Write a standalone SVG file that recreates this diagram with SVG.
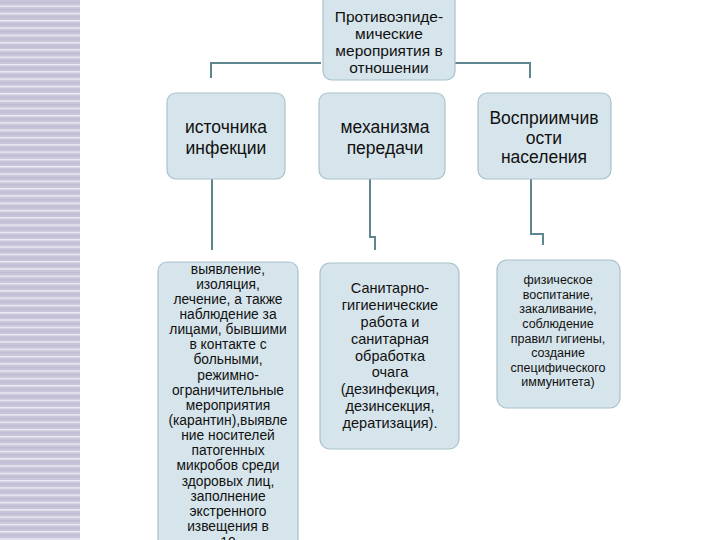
<svg xmlns="http://www.w3.org/2000/svg" width="720" height="540" viewBox="0 0 720 540">
<defs>
<pattern id="stripes" width="80" height="7.3" patternUnits="userSpaceOnUse">
<rect width="80" height="7.3" fill="#c9c5db"/>
<rect y="5.6" width="80" height="1.2" fill="#f4f3f8"/>
<rect y="2" width="80" height="1" fill="#bdb9d0"/>
</pattern>
</defs>
<style>
.box{fill:#d6e4eb;stroke:#a9c2cc;stroke-width:1.2}
.conn{fill:none;stroke:#5f8590;stroke-width:2}
text{font-family:"Liberation Sans",Arial,sans-serif;fill:#111;text-anchor:middle}
.t13{font-size:15.5px}
.t16{font-size:17.5px}
.t12{font-size:13.8px}
.t14{font-size:14.5px}
.t12b{font-size:12.5px}
</style>
<rect width="720" height="540" fill="#ffffff"/>
<rect x="0" y="0" width="80" height="540" fill="url(#stripes)"/>
<g id="connectors">
<polyline class="conn" points="211,78 211,63 321,63"/>
<polyline class="conn" points="455,63 530,63 530,78"/>
<polyline class="conn" points="212,179 212,250"/>
<polyline class="conn" points="370,179 370,237 375,237 375,250"/>
<polyline class="conn" points="531,179 531,234 543,234 543,245"/>
</g>
<g id="top">
<rect class="box" x="323" y="-8" width="132" height="88" rx="9"/>
<text class="t13" x="389" y="22">Противоэпиде-</text>
<text class="t13" x="389" y="39">мические</text>
<text class="t13" x="389" y="56">мероприятия в</text>
<text class="t13" x="389" y="73">отношении</text>
</g>
<g id="source">
<rect class="box" x="167" y="93" width="118" height="86" rx="9"/>
<text class="t16" x="226" y="133">источника</text>
<text class="t16" x="226" y="154">инфекции</text>
</g>
<g id="mechanism">
<rect class="box" x="319" y="93" width="126" height="86" rx="9"/>
<text class="t16" x="385" y="133">механизма</text>
<text class="t16" x="385" y="154">передачи</text>
</g>
<g id="susceptibility">
<rect class="box" x="478" y="93" width="133" height="86" rx="9"/>
<text class="t16" x="544" y="124">Восприимчив</text>
<text class="t16" x="544" y="144">ости</text>
<text class="t16" x="544" y="163">населения</text>
</g>
<g id="source-measures">
<rect class="box" x="158" y="262" width="140" height="300" rx="9"/>
<text class="t12" x="228" y="274">выявление,</text>
<text class="t12" x="228" y="289">изоляция,</text>
<text class="t12" x="228" y="304">лечение, а также</text>
<text class="t12" x="228" y="319">наблюдение за</text>
<text class="t12" x="228" y="334">лицами, бывшими</text>
<text class="t12" x="228" y="349">в контакте с</text>
<text class="t12" x="228" y="364">больными,</text>
<text class="t12" x="228" y="380">режимно-</text>
<text class="t12" x="228" y="395">ограничительные</text>
<text class="t12" x="228" y="410">мероприятия</text>
<text class="t12" x="228" y="425">(карантин),выявле</text>
<text class="t12" x="228" y="440">ние носителей</text>
<text class="t12" x="228" y="455">патогенных</text>
<text class="t12" x="228" y="470">микробов среди</text>
<text class="t12" x="228" y="486">здоровых лиц,</text>
<text class="t12" x="228" y="501">заполнение</text>
<text class="t12" x="228" y="516">экстренного</text>
<text class="t12" x="228" y="531">извещения в</text>
<text class="t12" x="228" y="547">10</text>
</g>
<g id="mechanism-measures">
<rect class="box" x="320" y="263" width="139" height="186" rx="10"/>
<text class="t14" x="390" y="293">Санитарно-</text>
<text class="t14" x="390" y="310">гигиенические</text>
<text class="t14" x="390" y="327">работа и</text>
<text class="t14" x="390" y="344">санитарная</text>
<text class="t14" x="390" y="361">обработка</text>
<text class="t14" x="390" y="377">очага</text>
<text class="t14" x="390" y="394">(дезинфекция,</text>
<text class="t14" x="390" y="411">дезинсекция,</text>
<text class="t14" x="390" y="428">дератизация).</text>
</g>
<g id="susceptibility-measures">
<rect class="box" x="497" y="260" width="123" height="148" rx="10"/>
<text class="t12b" x="558" y="284">физическое</text>
<text class="t12b" x="558" y="299">воспитание,</text>
<text class="t12b" x="558" y="313">закаливание,</text>
<text class="t12b" x="558" y="328">соблюдение</text>
<text class="t12b" x="558" y="343">правил гигиены,</text>
<text class="t12b" x="558" y="357">создание</text>
<text class="t12b" x="558" y="372">специфического</text>
<text class="t12b" x="558" y="386">иммунитета)</text>
</g>
</svg>
